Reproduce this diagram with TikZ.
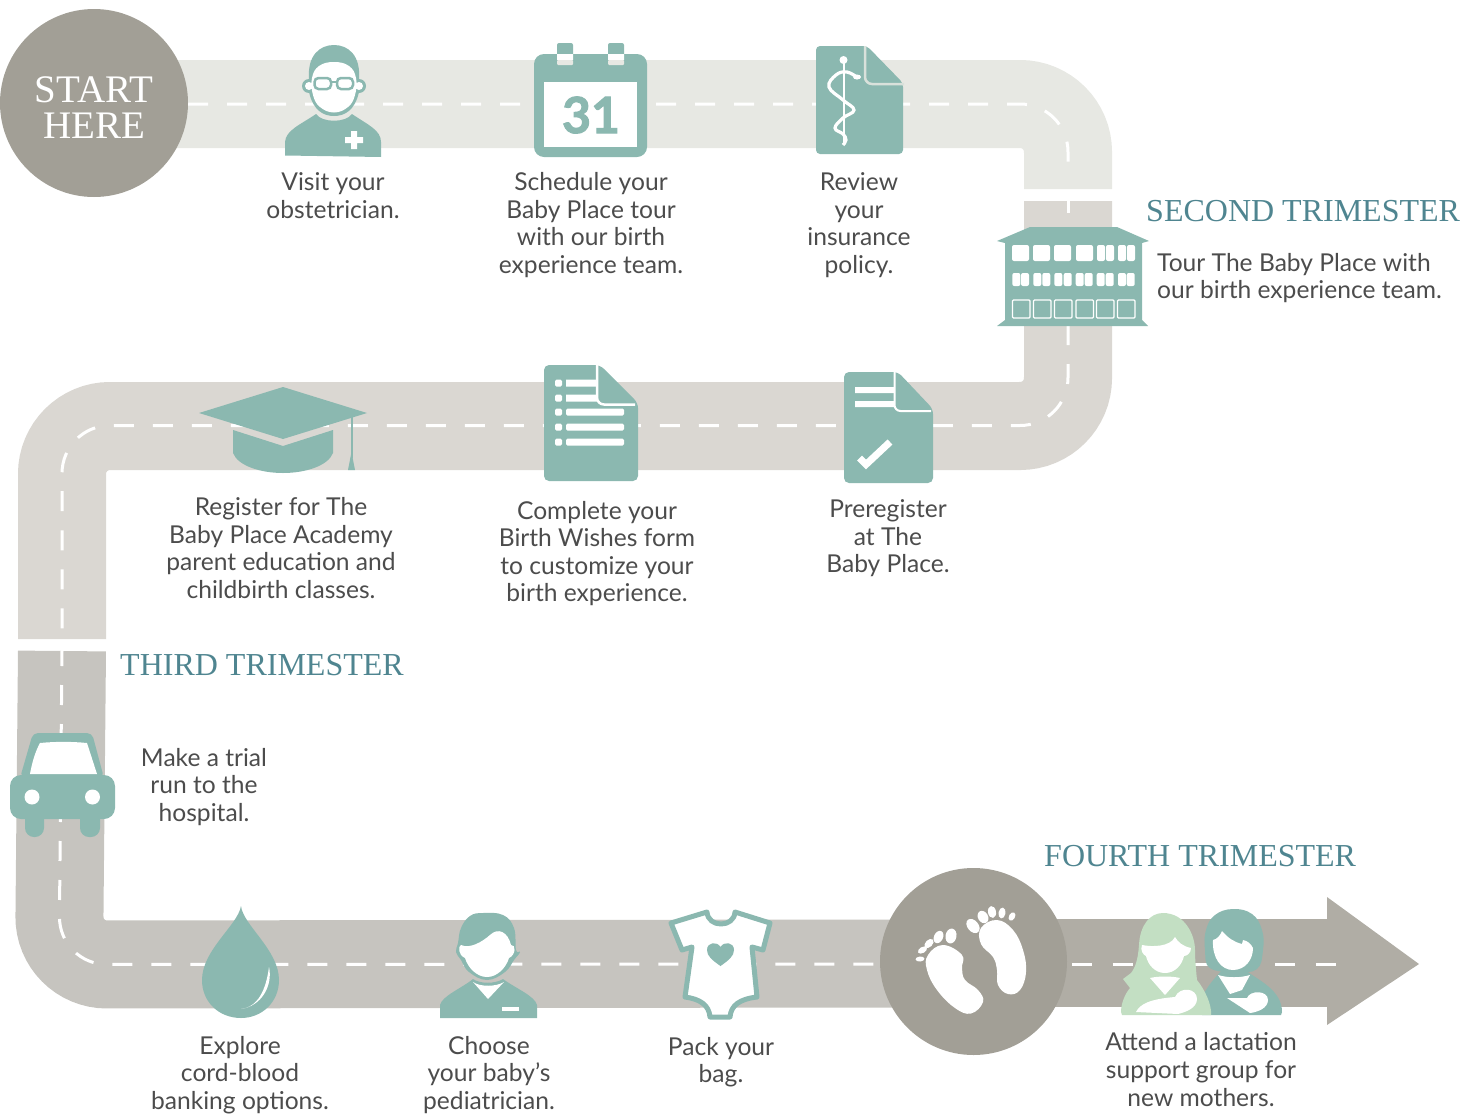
\documentclass[tikz,border=0pt]{standalone}
\usepackage{fontspec}
\setmainfont{Lato}
\newfontfamily\titlefont{Liberation Serif}
\newfontfamily\dayfont[BoldFeatures = {FakeBold = 2}]{Lato}
\definecolor{roadone}{HTML}{E7E8E3}
\definecolor{roadtwo}{HTML}{DAD7D2}
\definecolor{roadthree}{HTML}{C6C4BF}
\definecolor{roadfour}{HTML}{B0ADA5}
\definecolor{badgegrey}{HTML}{A29F96}
\definecolor{iconteal}{HTML}{8BB8B0}
\definecolor{iconmint}{HTML}{C3DFC3}
\definecolor{titleteal}{HTML}{4F8590}
\definecolor{bodygrey}{HTML}{4C4C4C}
\tikzset{ road/.style = {line width = 88pt, rounded corners = 48pt}
        , midline/.style = {white, line width = 3pt, dash pattern = on 20pt off 19pt}
        , icon/.style = {fill = iconteal}
        , mint/.style = {fill = iconmint}
        , cutout/.style = {fill = white}
        , blurb/.style = {text = bodygrey, align = center, inner sep = 0pt,
                          font = \fontsize{24.6}{27.6}\selectfont}
        , heading/.style = {text = titleteal, anchor = west, inner sep = 0pt,
                            font = \titlefont\fontsize{32}{36}\selectfont}
        }
\begin{document}
\begin{tikzpicture}[ x = 1pt
                   , y = -1pt
                   ]
  \useasboundingbox (0,0) rectangle (1476,1114);

  \draw[road, roadone] (170,104) -- (1068,104) -- (1068,189);
  \draw[road, roadtwo] (1068,201) -- (1068,426) -- (62,426) -- (62,639);
  \draw[road, roadthree] (62,651) -- (59,964.5) -- (900,963.5);
  \draw[road, roadfour] (1040,963) -- (1330,963);
  \fill[roadfour] (1327,897) -- (1419,964) -- (1327,1025) -- cycle;

  \draw[midline, rounded corners = 48pt] (188,104) -- (1068,104) -- (1068,165);
  \draw[midline] (1068,201) -- (1068,213);
  \draw[midline, rounded corners = 48pt] (1068,325) -- (1068,425.5) -- (62,425.5) -- (62,640);
  \draw[midline, rounded corners = 48pt, dash phase = 5pt] (62,651) -- (59,964.5) -- (880,964);
  \draw[midline, dash pattern = on 20pt off 20.6pt] (1072,964) -- (1337,964);

  \fill[badgegrey] (94,103) circle (94);
  \fill[badgegrey] (973.5,961.5) circle (93.5);
  \node (starthere) at (94,108) [text = white, align = center, inner sep = 0pt,
      font = \titlefont\fontsize{39}{36}\selectfont] {START\\HERE};

  % doctor
  \fill[icon] (309,80) .. controls (307,55) and (320,45) .. (334,45) .. controls (348,45) and (361,55) .. (359,80)
      -- (359,92) .. controls (355,110) and (345,116) .. (334,116) .. controls (323,116) and (313,110) .. (309,92) -- cycle;
  \fill[icon] (309,86) circle (7) (359,86) circle (7);
  \fill[cutout] (309,86) circle (4) (359,86) circle (4);
  \fill[cutout] plot[smooth cycle, tension = .7] coordinates
      {(334,62) (349,66) (356,78) (355,95) (348,107) (334,112.5) (320,107) (313,95) (312,78) (319,66)};
  \draw[iconteal, line width = 2.5pt, rounded corners = 4pt] (314.5,78) rectangle (331,89);
  \draw[iconteal, line width = 2.5pt, rounded corners = 4pt] (337,78) rectangle (353,89);
  \draw[iconteal, line width = 2.5pt] (331,82) -- (337,82);
  \fill[icon] (285,155.5) -- (285,142) .. controls (286,130) and (300,125) .. (316,114)
      .. controls (322,123) and (346,123) .. (352,114) .. controls (368,125) and (381,130) .. (381,142)
      -- (381,157) -- cycle;
  \fill[cutout] (351,131) rectangle (357,149) (345,137) rectangle (363,143);

  % calendar
  \fill[icon, rounded corners = 10pt] (534,54) rectangle (647,157);
  \fill[cutout] (544,82) rectangle (637,147);
  \fill[icon, rounded corners = 2pt] (557,43) rectangle (573,60);
  \fill[icon, rounded corners = 2pt] (608,43) rectangle (624,60);
  \fill[cutout] (557,54) rectangle (573,60) (608,54) rectangle (624,60);
  \fill[roadone, rounded corners = 1pt] (557,60) rectangle (573,65);
  \fill[roadone, rounded corners = 1pt] (608,60) rectangle (624,65);
  \node (dayno) at (591,115) [text = iconteal, inner sep = 0pt,
      font = \dayfont\bfseries\fontsize{50}{50}\selectfont] {31};

  % insurance sheet
  \fill[icon, rounded corners = 4pt] (816,46) -- (867,46) -- (903,83) -- (903,154) -- (816,154) -- cycle;
  \draw[roadone!85!iconteal, line width = 2.5pt, rounded corners = 7pt] (865,46) -- (865,84) -- (904,84);
  \draw[white, line width = 2pt] (843.5,60) -- (843.5,145);
  \fill[white] (843.5,60) circle (4);
  \draw[white, line width = 3.2pt] plot[smooth, tension = .7] coordinates
      {(858,78) (847,72) (836,75) (829,87) (843,100) (854,110) (843,118) (835,128) (843,134) (846,140) (843,145)};
  \fill[white] (857,77) ellipse (4 and 2.5);

  % building
  \fill[icon] (997,241) -- (1030,227) -- (1117,227) -- (1149,241) -- (1142,243) -- (1142,320)
      -- (1148,326) -- (997,326) -- (1005,320) -- (1005,243) -- cycle;
  \foreach \winx in {1012,1033,1054,1076} {
    \fill[cutout, rounded corners = 2pt] (\winx,245) rectangle ++(17,16);
  }
  \foreach \winx in {1097,1106,1118,1127} {
    \fill[cutout, rounded corners = 2pt] (\winx,245) rectangle ++(8,16);
  }
  \foreach \winx in {1012.3,1021,1033.3,1042.3,1054.3,1063.7,1075.7,1084.7,1096.7,1105.7,1118,1126.7} {
    \fill[cutout, rounded corners = 2pt] (\winx,273) rectangle ++(8,13);
  }
  \foreach \winx in {1012.5,1033.5,1054.5,1076,1096.5,1117.5} {
    \draw[white, line width = 1.2pt, rounded corners = 1pt] (\winx,300) rectangle ++(17.5,18);
  }

  % cap
  \fill[icon] (199,413) -- (283,387) -- (367,413) -- (283,439) -- cycle;
  \fill[icon] (233,430) -- (283,446) -- (333,430) -- (333,453)
      .. controls (328,466) and (305,473) .. (283,473) .. controls (261,473) and (238,466) .. (233,453) -- cycle;
  \draw[iconteal, line width = 2pt] (351.5,417) -- (351.5,458);
  \fill[icon] (351.5,452) -- (355,470) -- (348,470) -- cycle;

  % wishes form
  \fill[icon, rounded corners = 5pt] (544,365) -- (600,365) -- (638,403) -- (638,481) -- (544,481) -- cycle;
  \foreach \rowy in {383,398,412,427,442} {
    \fill[cutout, rounded corners = 1.5pt] (555,\rowy-3.5) rectangle (562,\rowy+3.5);
  }
  \fill[cutout] (566,379.5) rectangle (597,386.5) (566,394.5) rectangle (597,401.5);
  \foreach \rowy in {412,427,442} {
    \fill[cutout, rounded corners = 1.5pt] (566,\rowy-3.5) rectangle (624,\rowy+3.5);
  }
  \draw[white, line width = 2.5pt, rounded corners = 7pt] (597,365) -- (597,404.5) -- (635,404.5);

  % preregister sheet
  \fill[icon, rounded corners = 5pt] (844,372) -- (898,372) -- (933,409) -- (933,483) -- (844,483) -- cycle;
  \fill[cutout] (855,387) rectangle (894,393) (855,401) rectangle (894,407);
  \draw[white, line width = 2pt, rounded corners = 6pt] (894.5,372) -- (894.5,411) -- (931,411);
  \draw[white, line width = 7pt] (859.5,458) -- (866,464.5) -- (890,442);

  % car
  \fill[icon, rounded corners = 5pt] (33,733) -- (92,733) -- (104,778) -- (20,778) -- cycle;
  \fill[icon, rounded corners = 11pt] (10,775) rectangle (115,819);
  \fill[icon, rounded corners = 9pt] (25,808) rectangle (44,837);
  \fill[icon, rounded corners = 9pt] (80,808) rectangle (100,837);
  \fill[cutout] (40,743) .. controls (55,741.5) and (72,741.5) .. (87,743) -- (97,774) -- (30,774)
      .. controls (32,763) and (35,752) .. (40,743) -- cycle;
  \fill[cutout] (32,797) circle (7.5) (92.5,797) circle (7.5);

  % drop
  \fill[icon] (241,906) .. controls (243,925) and (279,950) .. (279,980)
      .. controls (279,1002) and (262,1018) .. (241,1018) .. controls (219,1018) and (202,1002) .. (202,980)
      .. controls (202,950) and (238,925) .. (241,906) -- cycle;
  \fill[cutout] (269,967) .. controls (273,985) and (262,1006) .. (241,1009)
      .. controls (258,1007) and (266,990) .. (269,967) -- cycle;

  % paediatrician
  \fill[icon] plot[smooth cycle, tension = .7] coordinates
      {(483,913) (503,915) (514,928) (516,950) (520,952) (514,960) (505,972) (487,980) (469,972) (461,960) (456,952) (458,943) (461,928) (470,916)};
  \fill[cutout] (461,945) .. controls (470,949) and (482,942) .. (490,935) .. controls (498,927) and (508,932) .. (511,945)
      .. controls (516,944) and (516,955) .. (509,958) .. controls (506,968) and (497,977) .. (487,977)
      .. controls (477,977) and (468,968) .. (465,958) .. controls (458,955) and (458,946) .. (461,945) -- cycle;
  \fill[icon] (440,1018) -- (440,1005) .. controls (442,996) and (462,988) .. (473,979)
      .. controls (480,984) and (495,984) .. (503,979) .. controls (515,988) and (535,996) .. (537,1005) -- (537,1018) -- cycle;
  \fill[cutout] (473,982) .. controls (480,987) and (496,987) .. (504,982) -- (488,999) -- cycle;
  \fill[cutout] (502,1007) rectangle (519,1011);

  % onesie
  \draw[iconteal, fill = white, line width = 5pt, line join = round] (707,912)
      .. controls (708,928) and (734,928) .. (735,912) -- (770,923) -- (763,950) -- (752,947)
      -- (757,997) .. controls (740,999) and (731,1005) .. (730,1017) -- (710,1017)
      .. controls (709,1005) and (700,999) .. (685,997) -- (692,947) -- (682,950) -- (671,923) -- cycle;
  \fill[icon] (720.5,966) .. controls (712,960) and (707,956) .. (707,950) .. controls (707,942) and (717,941) .. (720.5,947)
      .. controls (724,941) and (734,942) .. (734,950) .. controls (734,956) and (729,960) .. (720.5,966) -- cycle;

  % feet
  \fill[cutout] plot[smooth cycle, tension = .7] coordinates
      {(997,920) (1013,930) (1023,950) (1026,972) (1020,990) (1008,994) (998,985) (997,970) (993,957) (981,944) (981,928)};
  \fill[cutout] (973,926) ellipse [x radius = 8, y radius = 5.5, rotate = -50];
  \fill[cutout] (983,917) ellipse [x radius = 6.5, y radius = 5, rotate = -60];
  \fill[cutout] (992,912) ellipse [x radius = 6, y radius = 4, rotate = -80];
  \fill[cutout] (1002,913) ellipse [x radius = 5.5, y radius = 3.5, rotate = -100];
  \fill[cutout] (1012,916.5) ellipse [x radius = 4.5, y radius = 3, rotate = -120];
  \fill[cutout] plot[smooth cycle, tension = .7] coordinates
      {(943,945) (928,955) (927,970) (937,990) (955,1008) (971,1013.5) (983,1002) (978,990) (965,980) (962,968) (962,955)};
  \fill[cutout] (951,936) ellipse [x radius = 7.5, y radius = 5.5, rotate = 80];
  \fill[cutout] (938.5,937) ellipse [x radius = 6.5, y radius = 4.5, rotate = 65];
  \fill[cutout] (929,943.5) ellipse [x radius = 5.5, y radius = 3.5, rotate = 45];
  \fill[cutout] (922.5,950) ellipse [x radius = 5, y radius = 3, rotate = 30];
  \fill[cutout] (920,959) ellipse [x radius = 4.5, y radius = 2.5, rotate = 5];

  % second mother
  \fill[icon] plot[smooth cycle, tension = .7] coordinates
      {(1233,909) (1252,914) (1262,930) (1263,950) (1257,969) (1236,972) (1210,968) (1205,950) (1206,930) (1215,915)};
  \fill[icon] (1202,1015) -- (1202,997) .. controls (1208,985) and (1215,978) .. (1222,970)
      -- (1245,970) .. controls (1258,980) and (1282,990) .. (1282,1012) -- (1281,1015) -- cycle;
  \fill[cutout] (1213,940) .. controls (1217,939) and (1220,936) .. (1222,931) .. controls (1228,938) and (1234,942) .. (1242,944)
      -- (1243,940) .. controls (1248,941) and (1251,944) .. (1253,948) .. controls (1253,960) and (1245,970) .. (1233,970)
      .. controls (1221,970) and (1212,958) .. (1213,940) -- cycle;
  \fill[cutout] (1218,975) .. controls (1228,978) and (1240,978) .. (1250,975) -- (1242,990) -- (1230,994) -- cycle;
  \fill[cutout] (1227,998) -- (1247,998) .. controls (1250,990) and (1268,990) .. (1268,1000)
      .. controls (1268,1008) and (1258,1012) .. (1250,1013) -- cycle;

  % first mother
  \fill[mint] (1163,913) .. controls (1150,913) and (1140,925) .. (1139,945) .. controls (1138,960) and (1135,968) .. (1131,973)
      -- (1123,979) -- (1130,988) .. controls (1124,995) and (1121,1005) .. (1121,1012)
      -- (1122,1015) -- (1211,1015) .. controls (1212,1005) and (1205,990) .. (1197,980)
      .. controls (1196,970) and (1195,960) .. (1195,950) .. controls (1195,935) and (1185,913) .. (1163,913) -- cycle;
  \fill[cutout] (1142,945) .. controls (1152,947) and (1170,947) .. (1175,937) .. controls (1178,942) and (1182,946) .. (1191,948)
      .. controls (1191,953) and (1187,956) .. (1184,956) .. controls (1182,965) and (1175,973) .. (1165,973)
      .. controls (1155,973) and (1148,965) .. (1146,956) .. controls (1143,955) and (1140,950) .. (1142,945) -- cycle;
  \fill[cutout] (1150,978) .. controls (1158,976) and (1172,976) .. (1180,978) -- (1165,995) -- cycle;
  \fill[cutout] (1136,1012) .. controls (1140,1004) and (1150,999) .. (1175,997)
      .. controls (1180,986) and (1197,988) .. (1197,999) .. controls (1197,1008) and (1186,1012) .. (1178,1014) -- cycle;

  \node (visit) at (333,195.5) [blurb] {Visit your\\obstetrician.};
  \node (schedule) at (591,225) [blurb] {Schedule your\\Baby Place tour\\with our birth\\experience team.};
  \node (review) at (859,225) [blurb] {Review\\your\\insurance\\policy.};
  \node (secondtitle) at (1146,211) [heading] {SECOND TRIMESTER};
  \node (tour) at (1157,278) [blurb, anchor = west, align = left] {Tour The Baby Place with\\our birth experience team.};
  \node (academy) at (281,548) [blurb] {Register for The\\Baby Place Academy\\parent education and\\childbirth classes.};
  \node (wishes) at (597,553.5) [blurb] {Complete your\\Birth Wishes form\\to customize your\\birth experience.};
  \node (preregister) at (888,538.5) [blurb] {Preregister\\at The\\Baby Place.};
  \node (thirdtitle) at (120,665) [heading] {THIRD TRIMESTER};
  \node (trialrun) at (204,787) [blurb] {Make a trial\\run to the\\hospital.};
  \node (cordblood) at (240,1075) [blurb] {Explore\\cord-blood\\banking options.};
  \node (paediatric) at (489,1075) [blurb] {Choose\\your baby’s\\pediatrician.};
  \node (packbag) at (721,1062) [blurb] {Pack your\\bag.};
  \node (fourthtitle) at (1044,856) [heading] {FOURTH TRIMESTER};
  \node (lactation) at (1201,1069.5) [blurb] {Attend a lactation\\support group for\\new mothers.};

\end{tikzpicture}
\end{document}
